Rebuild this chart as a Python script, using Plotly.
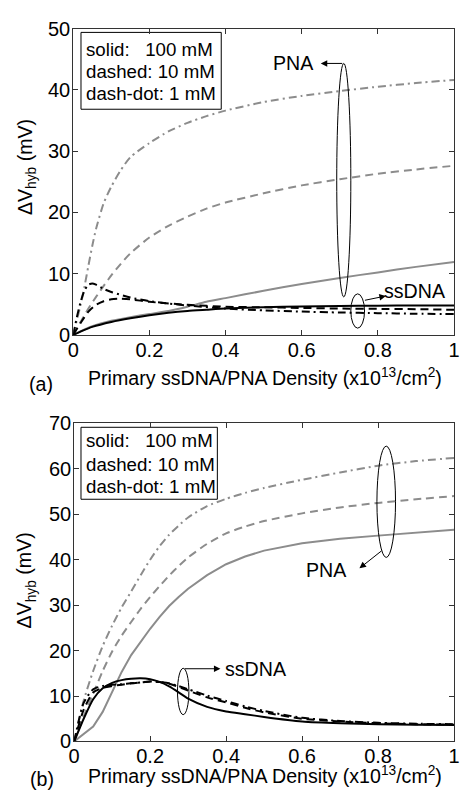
import plotly.graph_objects as go

# ---------------- data: panel (a) ----------------
a_pna_1mM_x = [0, 0.01, 0.02, 0.03, 0.04, 0.05, 0.06, 0.08, 0.1, 0.125, 0.15, 0.2, 0.25, 0.3, 0.35, 0.4, 0.5, 0.6, 0.7, 0.8, 0.9, 1.0]
a_pna_1mM_y = [0, 2.5, 5.0, 8.0, 11.3, 14.5, 17.3, 21.5, 24.2, 26.9, 29.0, 31.3, 33.2, 34.6, 35.7, 36.6, 38.0, 39.0, 39.8, 40.5, 41.1, 41.6]

a_pna_10mM_x = [0, 0.02, 0.04, 0.06, 0.08, 0.1, 0.125, 0.15, 0.2, 0.25, 0.3, 0.35, 0.4, 0.5, 0.6, 0.7, 0.8, 0.9, 1.0]
a_pna_10mM_y = [0, 2.2, 4.3, 6.2, 8.0, 9.7, 11.6, 13.3, 15.9, 17.8, 19.3, 20.6, 21.6, 23.1, 24.4, 25.4, 26.3, 27.0, 27.6]

a_pna_100mM_x = [0, 0.05, 0.1, 0.15, 0.2, 0.25, 0.3, 0.35, 0.4, 0.5, 0.6, 0.7, 0.8, 0.9, 1.0]
a_pna_100mM_y = [0, 1.4, 2.3, 2.9, 3.4, 3.9, 4.6, 5.4, 6.0, 7.2, 8.3, 9.3, 10.2, 11.1, 11.9]

a_ss_100mM_x = [0, 0.025, 0.05, 0.1, 0.15, 0.2, 0.25, 0.3, 0.35, 0.4, 0.5, 0.6, 0.7, 0.8, 0.9, 1.0]
a_ss_100mM_y = [0, 0.7, 1.3, 2.1, 2.7, 3.2, 3.6, 3.9, 4.1, 4.3, 4.5, 4.65, 4.72, 4.77, 4.8, 4.8]

a_ss_10mM_x = [0, 0.02, 0.04, 0.06, 0.08, 0.1, 0.12, 0.15, 0.2, 0.3, 0.4, 0.5, 0.6, 0.7, 0.8, 0.9, 1.0]
a_ss_10mM_y = [0, 2.0, 3.8, 4.9, 5.5, 5.8, 5.9, 5.8, 5.4, 4.9, 4.6, 4.5, 4.4, 4.3, 4.25, 4.2, 4.1]

a_ss_1mM_x = [0, 0.01, 0.02, 0.03, 0.04, 0.05, 0.06, 0.08, 0.1, 0.15, 0.2, 0.3, 0.4, 0.5, 0.6, 0.7, 0.8, 0.9, 1.0]
a_ss_1mM_y = [0, 3.0, 5.5, 7.3, 8.2, 8.4, 8.2, 7.5, 7.0, 6.1, 5.5, 4.8, 4.3, 4.0, 3.8, 3.65, 3.55, 3.45, 3.4]

# ---------------- data: panel (b) ----------------
b_x = [0, 0.025, 0.05, 0.075, 0.1, 0.125, 0.15, 0.175, 0.2, 0.225, 0.25, 0.275, 0.3, 0.35, 0.4, 0.45, 0.5, 0.6, 0.7, 0.8, 0.9, 1.0]
b_pna_100mM = [0, 1.6, 3.3, 6.5, 11.0, 15.3, 19.0, 22.0, 24.8, 27.4, 29.8, 31.8, 33.6, 36.6, 39.0, 40.7, 42.0, 43.6, 44.6, 45.3, 46.0, 46.6]
b_pna_10mM = [0, 5.5, 10.5, 15.5, 19.8, 23.3, 26.3, 29.2, 31.8, 34.2, 36.5, 38.6, 40.5, 43.5, 45.8, 47.3, 48.5, 50.2, 51.5, 52.5, 53.3, 54.0]
b_pna_1mM = [0, 9.0, 15.5, 21.0, 25.5, 29.5, 33.0, 36.6, 40.0, 43.0, 45.5, 47.5, 49.3, 51.8, 53.4, 54.7, 55.8, 57.6, 59.2, 60.7, 61.7, 62.4]
b_ss_100mM = [0, 5.0, 9.3, 11.7, 12.9, 13.5, 13.8, 13.9, 13.7, 13.1, 12.1, 10.8, 9.4, 7.6, 6.6, 6.0, 5.4, 4.4, 4.0, 3.8, 3.7, 3.6]
b_ss_10mM = [0, 7.0, 10.8, 11.8, 12.2, 12.5, 12.8, 13.0, 13.2, 13.1, 12.7, 12.0, 11.2, 9.7, 8.6, 7.4, 6.4, 5.0, 4.4, 4.0, 3.8, 3.7]
b_ss_1mM = [0, 8.5, 11.5, 12.2, 12.5, 12.6, 12.8, 13.0, 13.2, 13.1, 12.8, 12.2, 11.5, 10.1, 8.9, 7.7, 6.7, 5.2, 4.5, 4.1, 3.9, 3.8]

x_tickvals = [0, 0.2, 0.4, 0.6, 0.8, 1.0]
x_ticktext = ["0", "0.2", "0.4", "0.6", "0.8", "1"]
a_y_tickvals = [0, 10, 20, 30, 40, 50]
b_y_tickvals = [0, 10, 20, 30, 40, 50, 60, 70]
legend_lines = ["solid:\u00a0\u00a0\u00a0100 mM", "dashed: 10 mM", "dash-dot: 1 mM"]
x_title = "Primary ssDNA/PNA Density (x10<sup>13</sup>/cm<sup>2</sup>)"
y_title = "\u0394V<sub>hyb</sub> (mV)"

# ---------------- styling ----------------
W, H = 461, 804
def px(x):
    return x / W
def py(y):
    return 1 - y / H

GRAY = "#8c8c8c"
BLACK = "#000000"
DASH = "8px,5px"
DASHDOT = "8px,4px,2px,4px"
FONT = "Liberation Sans, Arial, Helvetica, sans-serif"
FS = 19.6
LFS = 18.7
TFS = 20
LW = 2

fig = go.Figure()

def add(x, y, color, dash, xa, ya, smooth=True):
    line = dict(color=color, width=LW, dash=dash)
    if smooth:
        line.update(shape="spline", smoothing=0.6)
    fig.add_trace(go.Scatter(x=x, y=y, mode="lines", xaxis=xa, yaxis=ya, line=line,
                             showlegend=False, hoverinfo="skip"))

# panel (a)
add(a_pna_1mM_x, a_pna_1mM_y, GRAY, DASHDOT, "x", "y")
add(a_pna_10mM_x, a_pna_10mM_y, GRAY, DASH, "x", "y")
add(a_pna_100mM_x, a_pna_100mM_y, GRAY, "solid", "x", "y")
add(a_ss_100mM_x, a_ss_100mM_y, BLACK, "solid", "x", "y")
add(a_ss_10mM_x, a_ss_10mM_y, BLACK, DASH, "x", "y")
add(a_ss_1mM_x, a_ss_1mM_y, BLACK, DASHDOT, "x", "y")

# panel (b)
add(b_x, b_pna_1mM, GRAY, DASHDOT, "x2", "y2")
add(b_x, b_pna_10mM, GRAY, DASH, "x2", "y2")
add(b_x, b_pna_100mM, GRAY, "solid", "x2", "y2", smooth=False)
add(b_x, b_ss_100mM, BLACK, "solid", "x2", "y2")
add(b_x, b_ss_10mM, BLACK, DASH, "x2", "y2")
add(b_x, b_ss_1mM, BLACK, DASHDOT, "x2", "y2")

axis_common = dict(showgrid=False, zeroline=False, showline=True, linecolor="#333333", linewidth=1,
                   mirror="ticks", ticks="inside", ticklen=5, tickwidth=1, tickcolor="#333333",
                   ticklabeloverflow="allow",
                   tickfont=dict(family=FONT, size=TFS, color="black"))

fig.update_layout(
    width=W, height=H, margin=dict(l=0, r=0, t=0, b=0),
    paper_bgcolor="white", plot_bgcolor="white",
    font=dict(family=FONT, size=FS, color="black"),
    xaxis=dict(domain=[px(69), px(460)], range=[0, 1], anchor="y", ticklabelstandoff=-3,
               tickvals=x_tickvals, ticktext=x_ticktext, **axis_common),
    yaxis=dict(domain=[py(333), py(18)], range=[0, 50], anchor="x", ticklabelstandoff=-2,
               tickvals=a_y_tickvals, **axis_common),
    xaxis2=dict(domain=[px(70), px(460)], range=[0, 1], anchor="y2", ticklabelstandoff=-3,
                tickvals=x_tickvals, ticktext=x_ticktext, **axis_common),
    yaxis2=dict(domain=[py(751), py(424)], range=[0, 70], anchor="x2", ticklabelstandoff=-2,
                tickvals=b_y_tickvals, **axis_common),
)

shapes = []
annotations = []

def text(t, x, y, xref="paper", yref="paper", xanchor="center", yanchor="middle", angle=0, size=FS):
    annotations.append(dict(text=t, x=x, y=y, xref=xref, yref=yref, xanchor=xanchor, yanchor=yanchor,
                            showarrow=False, textangle=angle, borderpad=0,
                            font=dict(family=FONT, size=size, color="black")))

def arrow(hx, hy, tx, ty, xr, yr):
    annotations.append(dict(text="", x=hx, y=hy, ax=tx, ay=ty, xref=xr, yref=yr, axref=xr, ayref=yr,
                            showarrow=True, arrowhead=2, arrowsize=1.3, arrowwidth=1, arrowcolor="black",
                            standoff=0, startstandoff=0))

def ellipse(x0, x1, y0, y1, xr, yr):
    shapes.append(dict(type="circle", xref=xr, yref=yr, x0=x0, x1=x1, y0=y0, y1=y1,
                       line=dict(color="black", width=1)))

# axis titles and panel labels
text(x_title, px(266), py(376))
text(x_title, px(266), py(786))
text(y_title, px(21), py(160), angle=-90)
text(y_title, px(21), py(585), angle=-90)
text("(a)", px(36), py(384))
text("(b)", px(37), py(790))

# legend boxes
shapes.append(dict(type="rect", xref="paper", yref="paper", x0=px(77), x1=px(221), y0=py(101), y1=py(22),
                   line=dict(color="black", width=1), fillcolor="white", layer="below"))
shapes.append(dict(type="rect", xref="paper", yref="paper", x0=px(77), x1=px(217), y0=py(502), y1=py(428),
                   line=dict(color="black", width=1), fillcolor="white", layer="below"))
for line_text, ya, yb in zip(legend_lines, [40, 62.5, 84.5], [442, 466, 489]):
    text(line_text, px(81), py(ya), xanchor="left", size=LFS)
    text(line_text, px(81), py(yb), xanchor="left", size=LFS)

# panel (a) annotations
ellipse(0.692, 0.729, 6.2, 44.3, "x", "y")
arrow(0.65, 44.3, 0.7105, 44.3, "x", "y")
text("PNA", 0.578, 44.3, xref="x", yref="y")
ellipse(0.729, 0.765, 1.1, 6.7, "x", "y")
arrow(0.821, 6.35, 0.762, 5.6, "x", "y")
text("ssDNA", 0.897, 7.1, xref="x", yref="y")

# panel (b) annotations
ellipse(0.797, 0.846, 40.5, 65.0, "x2", "y2")
arrow(0.751, 38.1, 0.813, 42.2, "x2", "y2")
text("PNA", 0.664, 37.7, xref="x2", yref="y2")
ellipse(0.272, 0.302, 5.9, 16.1, "x2", "y2")
arrow(0.385, 16.0, 0.287, 16.0, "x2", "y2")
text("ssDNA", 0.479, 16.0, xref="x2", yref="y2")

fig.update_layout(shapes=shapes, annotations=annotations)
fig.write_html("out.html", config={"displayModeBar": False},
               post_script="document.body.style.margin='0';document.body.style.overflow='hidden';")
